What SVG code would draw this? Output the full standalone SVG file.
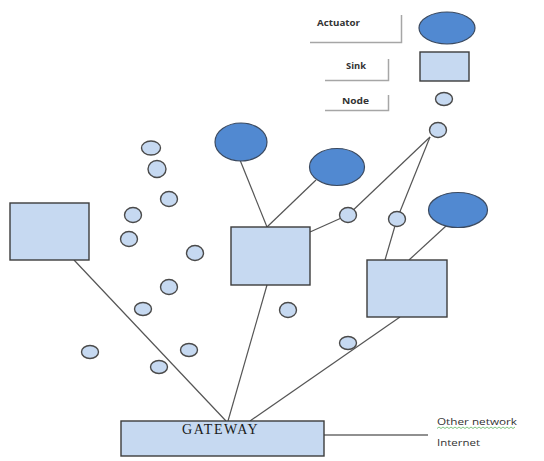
<svg xmlns="http://www.w3.org/2000/svg" width="544" height="461" viewBox="0 0 544 461">
<style>
.bg{fill:#ffffff}
.sink{fill:#c6d9f1;stroke:#3c3c3c;stroke-width:1.4}
.node{fill:#c6d9f1;stroke:#4a4a4a;stroke-width:1.4}
.act{fill:#5189d1;stroke:#3b4a60;stroke-width:1.2}
.conn{stroke:#555555;stroke-width:1.2;fill:none}
.lbox{stroke:#a6a6a6;stroke-width:1.5;fill:none}
.leg{font-family:"Open Sans","Liberation Sans",sans-serif;font-size:8.5px;font-weight:bold;fill:#333333}
.gw{font-family:"Liberation Serif","Times New Roman",serif;font-size:14px;fill:#1a1a1a;letter-spacing:1.3px}
.ext{font-family:"Open Sans","Liberation Sans",sans-serif;font-size:8.5px;fill:#333333}
</style>
<rect class="bg" x="0" y="0" width="544" height="461"/>
<g id="connectors">
<line class="conn" x1="74" y1="260" x2="226" y2="421"/>
<line class="conn" x1="267" y1="285" x2="228" y2="421"/>
<line class="conn" x1="400" y1="317" x2="250" y2="421"/>
<line class="conn" x1="240" y1="160" x2="267" y2="227"/>
<line class="conn" x1="316" y1="180" x2="267" y2="227"/>
<line class="conn" x1="310" y1="232" x2="348" y2="215"/>
<line class="conn" x1="348" y1="215" x2="430" y2="137"/>
<line class="conn" x1="430" y1="137" x2="397" y2="219"/>
<line class="conn" x1="397" y1="219" x2="385" y2="260"/>
<line class="conn" x1="446" y1="226" x2="409" y2="260"/>
<line x1="324" y1="435" x2="428" y2="435" stroke="#222" stroke-width="1.2"/>
</g>
<g id="legend-actuator">
<path class="lbox" d="M310,42.5 H401.5 V15"/>
<text class="leg" x="317" y="26" textLength="43" lengthAdjust="spacingAndGlyphs">Actuator</text>
<ellipse class="act" cx="447" cy="28" rx="28" ry="16"/>
</g>
<g id="legend-sink">
<path class="lbox" d="M325,80.5 H388.5 V59"/>
<text class="leg" x="346" y="69" textLength="20" lengthAdjust="spacingAndGlyphs">Sink</text>
<rect class="sink" x="420" y="52" width="49" height="29"/>
</g>
<g id="legend-node">
<path class="lbox" d="M325,110.5 H388.5 V95"/>
<text class="leg" x="342" y="104" textLength="27" lengthAdjust="spacingAndGlyphs">Node</text>
<ellipse class="node" cx="444" cy="99" rx="8.5" ry="6.5"/>
</g>
<g id="sink-left"><rect class="sink" x="10" y="203" width="79" height="57"/></g>
<g id="sink-center"><rect class="sink" x="231" y="227" width="79" height="58"/></g>
<g id="sink-right"><rect class="sink" x="367" y="260" width="80" height="57"/></g>
<g id="actuator-1"><ellipse class="act" cx="241" cy="142" rx="26" ry="19"/></g>
<g id="actuator-2"><ellipse class="act" cx="337" cy="167" rx="27.5" ry="18.5"/></g>
<g id="actuator-3"><ellipse class="act" cx="458" cy="210" rx="29.5" ry="17.5"/></g>
<g id="nodes">
<ellipse class="node" cx="151" cy="148" rx="9.5" ry="7"/>
<ellipse class="node" cx="157" cy="169" rx="9" ry="8.5"/>
<ellipse class="node" cx="169" cy="199" rx="8.5" ry="7.5"/>
<ellipse class="node" cx="133" cy="215" rx="8.5" ry="7.5"/>
<ellipse class="node" cx="129" cy="239" rx="8.5" ry="7.5"/>
<ellipse class="node" cx="195" cy="253" rx="8.5" ry="7.5"/>
<ellipse class="node" cx="169" cy="287" rx="8.5" ry="7.5"/>
<ellipse class="node" cx="143" cy="309" rx="8.5" ry="6.5"/>
<ellipse class="node" cx="90" cy="352" rx="8.5" ry="6.5"/>
<ellipse class="node" cx="189" cy="350" rx="8.5" ry="6.5"/>
<ellipse class="node" cx="159" cy="367" rx="8.5" ry="6.5"/>
<ellipse class="node" cx="288" cy="310" rx="8.5" ry="7.5"/>
<ellipse class="node" cx="348" cy="343" rx="8.5" ry="6.5"/>
<ellipse class="node" cx="348" cy="215" rx="8.5" ry="7.5"/>
<ellipse class="node" cx="397" cy="219" rx="8.5" ry="7.5"/>
<ellipse class="node" cx="438" cy="130" rx="8.5" ry="7.5"/>
</g>
<g id="gateway">
<rect class="sink" x="121" y="421" width="203" height="35"/>
<text class="gw" x="182" y="434" textLength="77" lengthAdjust="spacing">GATEWAY</text>
</g>
<g id="external">
<text class="ext" x="437" y="425" textLength="80" lengthAdjust="spacingAndGlyphs">Other network</text>
<path d="M437,428.5 l2,-1.5 l2,1.5 l2,-1.5 l2,1.5 l2,-1.5 l2,1.5 l2,-1.5 l2,1.5 l2,-1.5 l2,1.5 l2,-1.5 l2,1.5 l2,-1.5 l2,1.5 l2,-1.5 l2,1.5 l2,-1.5 l2,1.5 l2,-1.5 l2,1.5 l2,-1.5 l2,1.5 l2,-1.5 l2,1.5 l2,-1.5 l2,1.5 l2,-1.5 l2,1.5 l2,-1.5 l2,1.5 l2,-1.5 l2,1.5 l2,-1.5 l2,1.5 l2,-1.5 l2,1.5 l2,-1.5 l2,1.5 l2,-1.5" fill="none" stroke="#4caf50" stroke-width="0.7"/>
<text class="ext" x="437" y="446" textLength="43" lengthAdjust="spacingAndGlyphs">Internet</text>
</g>
</svg>
